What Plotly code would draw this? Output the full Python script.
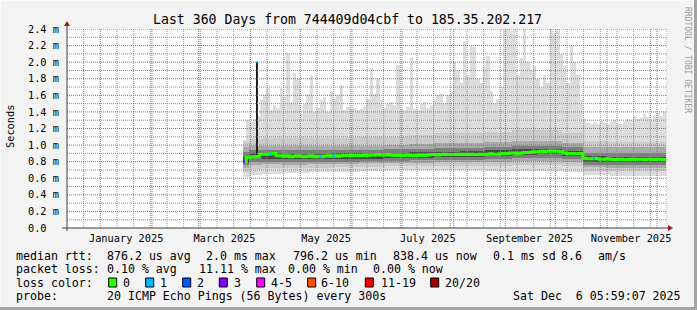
import numpy as np
import pandas as pd
import plotly.graph_objects as go

# ---------------- data ----------------
X_RANGE = ["2024-12-12 00:00", "2025-12-07 00:00"]
Y_RANGE = [0.0, 2.4]

month_starts = ["2025-01-01", "2025-02-01", "2025-03-01", "2025-04-01", "2025-05-01", "2025-06-01",
                "2025-07-01", "2025-08-01", "2025-09-01", "2025-10-01", "2025-11-01", "2025-12-01"]
month_labels = ["January 2025", "March 2025", "May 2025", "July 2025", "September 2025", "November 2025"]
month_label_pos = ["2025-01-16 12:00", "2025-03-16 12:00", "2025-05-16 12:00",
                   "2025-07-16 12:00", "2025-09-15 12:00", "2025-11-15 12:00"]
y_tick_vals = [0.0, 0.2, 0.4, 0.6, 0.8, 1.0, 1.2, 1.4, 1.6, 1.8, 2.0, 2.2, 2.4]
y_tick_text = ["0.0\u00a0\u00a0", "0.2 m", "0.4 m", "0.6 m", "0.8 m", "1.0 m", "1.2 m",
               "1.4 m", "1.6 m", "1.8 m", "2.0 m", "2.2 m", "2.4 m"]

# fine series: 2-day bins starting here (ms)
fine_start = "2025-03-27 12:00"
max_rtt = [1.06, 1.30, 1.28, 1.32, 1.35, 1.54, 1.60, 1.69, 1.42, 1.48,
           1.45, 1.69, 1.58, 2.11, 1.52, 1.87, 1.80, 1.38, 1.50, 1.62,
           1.85, 1.40, 1.45, 1.54, 1.58, 1.40, 1.65, 1.55, 1.60, 1.72,
           1.42, 1.46, 1.43, 1.45, 1.42, 1.44, 1.46, 1.55, 1.93, 1.62,
           1.80, 1.55, 1.45, 1.50, 1.52, 1.48, 1.97, 1.44, 1.42, 1.46,
           2.05, 1.43, 1.42, 1.50, 1.52, 1.45, 1.48, 1.55, 1.60, 1.62,
           1.50, 1.60, 1.65, 2.00, 1.90, 1.75, 2.25, 1.85, 2.20, 2.18,
           1.80, 1.75, 1.95, 2.07, 1.65, 1.50, 1.55, 1.70, 2.45, 2.45,
           2.38, 2.45, 1.85, 2.05, 2.45, 2.00, 1.90, 1.95, 1.80, 1.70,
           1.85, 1.75, 2.45, 2.35, 2.45, 2.10, 1.95, 1.75, 2.20, 2.00,
           1.85, 1.55, 1.32, 1.27, 1.25, 1.28, 1.26, 1.29, 1.27, 1.25,
           1.28, 1.30, 1.27, 1.26, 1.29, 1.32, 1.30, 1.35, 1.31, 1.33,
           1.38, 1.34, 1.32, 1.36, 1.39, 1.35, 1.40]
median_rtt = [0.80, 0.85, 0.86, 0.86, 0.865, 0.89, 0.89, 0.89, 0.895, 0.90,
              0.87, 0.87, 0.865, 0.87, 0.86, 0.865, 0.87, 0.865, 0.86, 0.865,
              0.87, 0.86, 0.865, 0.86, 0.865, 0.87, 0.865, 0.87, 0.865, 0.87,
              0.875, 0.875, 0.87, 0.875, 0.87, 0.875, 0.88, 0.875, 0.88, 0.88,
              0.885, 0.88, 0.88, 0.885, 0.88, 0.875, 0.88, 0.875, 0.875, 0.88,
              0.875, 0.87, 0.875, 0.88, 0.875, 0.88, 0.885, 0.885, 0.88, 0.885,
              0.89, 0.885, 0.885, 0.885, 0.89, 0.885, 0.89, 0.885, 0.89, 0.885,
              0.885, 0.89, 0.885, 0.89, 0.895, 0.89, 0.89, 0.895, 0.90, 0.90,
              0.905, 0.905, 0.90, 0.905, 0.91, 0.91, 0.915, 0.92, 0.92, 0.925,
              0.92, 0.925, 0.93, 0.925, 0.925, 0.92, 0.905, 0.90, 0.90, 0.90,
              0.90, 0.90, 0.84, 0.835, 0.835, 0.84, 0.835, 0.83, 0.83, 0.835,
              0.83, 0.825, 0.825, 0.83, 0.825, 0.825, 0.83, 0.825, 0.83, 0.83,
              0.825, 0.83, 0.83, 0.825, 0.83, 0.83, 0.825]
loss_count = [3, 0, 0, 0, 0, 0, 0, 0, 1, 0,
              0, 0, 0, 0, 0, 0, 0, 0, 0, 0,
              0, 0, 0, 1, 0, 0, 0, 1, 0, 0,
              0, 0, 0, 0, 0, 0, 0, 0, 0, 0,
              0, 0, 0, 0, 0, 0, 0, 0, 0, 0,
              0, 0, 0, 0, 0, 0, 0, 0, 0, 0,
              0, 0, 0, 0, 0, 0, 0, 0, 0, 0,
              0, 0, 0, 0, 0, 0, 0, 0, 0, 0,
              0, 0, 0, 0, 0, 0, 0, 0, 0, 0,
              0, 0, 0, 0, 0, 0, 0, 0, 0, 0,
              0, 0, 0, 0, 0, 1, 0, 0, 0, 0,
              0, 0, 0, 0, 0, 0, 0, 0, 0, 0,
              0, 0, 0, 0, 0, 0, 0]

# single high sample
spike_date = "2025-04-05 06:00"
spike_base = 0.88
spike_top = 2.0
spike_loss = 1

# smoke bands (coarse periods), values in ms
band_edges = ["2025-03-27 12:00", "2025-03-31 00:00", "2025-04-08 00:00", "2025-04-20 00:00",
              "2025-05-05 00:00", "2025-05-20 00:00", "2025-06-05 00:00", "2025-06-20 00:00",
              "2025-07-05 00:00", "2025-07-20 00:00", "2025-08-05 00:00", "2025-08-20 00:00",
              "2025-09-05 00:00", "2025-09-20 00:00", "2025-10-05 00:00", "2025-10-17 12:00",
              "2025-11-01 00:00", "2025-11-15 00:00", "2025-12-06 12:00"]
band_min = [0.62, 0.64, 0.65, 0.66, 0.67, 0.68, 0.69, 0.70, 0.70, 0.70, 0.70, 0.69, 0.69, 0.69, 0.68, 0.64, 0.63, 0.63]
band_lo2 = [0.68, 0.71, 0.72, 0.72, 0.725, 0.73, 0.735, 0.745, 0.745, 0.75, 0.75, 0.75, 0.755, 0.76, 0.745, 0.69, 0.685, 0.685]
band_lo3 = [0.72, 0.76, 0.77, 0.765, 0.77, 0.775, 0.78, 0.785, 0.79, 0.795, 0.80, 0.80, 0.805, 0.81, 0.795, 0.73, 0.725, 0.725]
band_lo4 = [0.76, 0.80, 0.80, 0.80, 0.80, 0.80, 0.805, 0.81, 0.815, 0.82, 0.825, 0.83, 0.845, 0.85, 0.83, 0.765, 0.76, 0.76]
band_lo5 = [0.79, 0.84, 0.835, 0.83, 0.83, 0.835, 0.835, 0.845, 0.85, 0.855, 0.86, 0.87, 0.885, 0.89, 0.865, 0.80, 0.795, 0.795]
band_hi5 = [0.86, 0.90, 0.90, 0.895, 0.895, 0.90, 0.90, 0.91, 0.915, 0.92, 0.925, 0.935, 0.95, 0.955, 0.93, 0.865, 0.86, 0.86]
band_hi4 = [0.92, 0.94, 0.94, 0.935, 0.935, 0.94, 0.94, 0.95, 0.955, 0.96, 0.965, 0.975, 0.99, 0.995, 0.975, 0.91, 0.905, 0.905]
band_hi3 = [0.98, 0.99, 0.99, 0.985, 0.985, 0.99, 0.99, 1.00, 1.01, 1.02, 1.025, 1.035, 1.05, 1.05, 1.03, 0.98, 0.975, 0.975]
band_hi2 = [1.04, 1.07, 1.08, 1.08, 1.08, 1.09, 1.10, 1.10, 1.12, 1.14, 1.15, 1.16, 1.18, 1.18, 1.15, 1.05, 1.04, 1.04]

loss_colors = {0: "#26ff00", 1: "#00b8ff", 2: "#0059ff", 3: "#7e00ff", 4: "#ff00ff",
               6: "#ff5500", 11: "#ff0000", 20: "#a00000"}
legend_loss_labels = ["0", "1", "2", "3", "4-5", "6-10", "11-19", "20/20"]
legend_loss_colors = ["#26ff00", "#00b8ff", "#0059ff", "#7e00ff", "#ff00ff", "#ff5500", "#ff0000", "#a00000"]

# ---------------- geometry helpers ----------------
W, H = 697, 310
L, R, T, B = 67, 30, 29, 82
PW, PH = W - L - R, H - T - B


def px(x):
    return (x - L) / PW


def py(y):
    return (H - B - y) / PH


DAY_MS = 86400000
FONT = "DejaVu Sans Mono"

fig = go.Figure()

# ---------------- smoke ----------------
fine_x = pd.date_range(fine_start, periods=len(max_rtt), freq="2D")
edges = pd.to_datetime(band_edges, format="ISO8601")
band_x = edges[:-1]
band_w = np.diff(edges.values).astype("timedelta64[ms]").astype(float)
idx = np.clip(np.searchsorted(edges.values, fine_x.values, side="right") - 1, 0, len(band_min) - 1)
min_fine = np.array(band_min)[idx]
mx = np.array(max_rtt)

fig.add_trace(go.Bar(x=fine_x, y=mx - min_fine, base=min_fine, width=2 * DAY_MS, offset=0,
                     marker=dict(color="#dcdcdc", line=dict(width=0)), hoverinfo="skip"))
layers = [(band_lo2, band_hi2, "#cacaca"), (band_lo3, band_hi3, "#aaaaaa"),
          (band_lo4, band_hi4, "#7e7e7e"), (band_lo5, band_hi5, "#4a4a4a")]
for lo, hi, col in layers:
    lo = np.array(lo)
    hi = np.array(hi)
    fig.add_trace(go.Bar(x=band_x, y=hi - lo, base=lo, width=band_w, offset=0,
                         marker=dict(color=col, line=dict(width=0)), hoverinfo="skip"))

fig.add_trace(go.Bar(x=[spike_date], y=[spike_top - spike_base], base=[spike_base],
                     width=1.2 * DAY_MS, offset=-0.6 * DAY_MS,
                     marker=dict(color="#1e1e1e", line=dict(width=0)), hoverinfo="skip"))

# ---------------- grid (drawn over smoke like rrdtool) ----------------
x0d, x1d = pd.Timestamp(X_RANGE[0]), pd.Timestamp(X_RANGE[1])
minor_dates = [d for d in pd.date_range(x0d + pd.Timedelta(days=10), x1d, freq="10D")
               if d.strftime("%Y-%m-%d") not in month_starts]
gx, gy = [], []
for d in minor_dates:
    gx += [d, d, None]
    gy += [Y_RANGE[0], Y_RANGE[1], None]
for v in np.arange(1, 24, 2) / 10.0:
    gx += [x0d, x1d, None]
    gy += [v, v, None]
fig.add_trace(go.Scatter(x=gx, y=gy, mode="lines", line=dict(color="#8e8e8e", width=1, dash="1px,1px"),
                         hoverinfo="skip"))
mxg, myg = [], []
for d in month_starts:
    dd = pd.Timestamp(d)
    mxg += [dd, dd, None]
    myg += [Y_RANGE[0], Y_RANGE[1], None]
for v in y_tick_vals[1:]:
    mxg += [x0d, x1d, None]
    myg += [v, v, None]
fig.add_trace(go.Scatter(x=mxg, y=myg, mode="lines", line=dict(color="#f04848", width=1, dash="1px,1px"),
                         hoverinfo="skip"))

# ---------------- median line ----------------
med_x = list(fine_x) + [fine_x[-1] + pd.Timedelta(days=2)]
med_y = list(median_rtt) + [median_rtt[-1]]
fig.add_trace(go.Scatter(x=med_x, y=med_y, mode="lines", line=dict(color=loss_colors[0], width=3, shape="hv"),
                         hoverinfo="skip"))


def loss_col(n):
    key = max(k for k in loss_colors if k <= n)
    return loss_colors[key]


for k, n in enumerate(loss_count):
    if n > 0:
        fig.add_trace(go.Scatter(x=[fine_x[k], fine_x[k] + pd.Timedelta(hours=30)],
                                 y=[median_rtt[k], median_rtt[k]], mode="lines",
                                 line=dict(color=loss_col(n), width=3), hoverinfo="skip"))
fig.add_trace(go.Scatter(x=[pd.Timestamp(spike_date) - pd.Timedelta(hours=14), pd.Timestamp(spike_date) + pd.Timedelta(hours=14)],
                         y=[spike_top, spike_top], mode="lines",
                         line=dict(color=loss_col(spike_loss), width=2), hoverinfo="skip"))

# ---------------- axes / shapes ----------------
shapes = []
AX = "#3c3c3c"
ARW = "#9b1c1c"
shapes.append(dict(type="line", xref="paper", yref="paper", x0=px(62), x1=px(669), y0=py(228), y1=py(228),
                   line=dict(color=AX, width=1)))
shapes.append(dict(type="line", xref="paper", yref="paper", x0=px(67), x1=px(67), y0=py(231), y1=py(25),
                   line=dict(color=AX, width=1)))
shapes.append(dict(type="path", xref="paper", yref="paper",
                   path=f"M {px(64)} {py(26)} L {px(70)} {py(26)} L {px(67)} {py(21)} Z",
                   fillcolor=ARW, line=dict(width=0)))
shapes.append(dict(type="path", xref="paper", yref="paper",
                   path=f"M {px(668)} {py(225)} L {px(668)} {py(231)} L {px(673)} {py(228)} Z",
                   fillcolor=ARW, line=dict(width=0)))
# frame shading
shapes.append(dict(type="rect", xref="paper", yref="paper", x0=px(694), x1=px(697), y0=py(0), y1=py(310),
                   fillcolor="#a3a3a3", line=dict(width=0)))
shapes.append(dict(type="rect", xref="paper", yref="paper", x0=px(0), x1=px(697), y0=py(307), y1=py(310),
                   fillcolor="#a3a3a3", line=dict(width=0)))
shapes.append(dict(type="rect", xref="paper", yref="paper", x0=px(0), x1=px(694), y0=py(0), y1=py(1),
                   fillcolor="#fbfbfb", line=dict(width=0)))
shapes.append(dict(type="rect", xref="paper", yref="paper", x0=px(0), x1=px(1), y0=py(0), y1=py(307),
                   fillcolor="#fbfbfb", line=dict(width=0)))

annotations = []


def txt(text, x, y, size=11.6, anchor="left", color="#000000", angle=0):
    annotations.append(dict(text=text, x=px(x), y=py(y), xref="paper", yref="paper", showarrow=False,
                            xanchor=anchor, yanchor="middle", textangle=angle,
                            font=dict(family=FONT, size=size, color=color)))


txt("Last 360 Days from 744409d04cbf to 185.35.202.217", 347.5, 19.5, size=13.2, anchor="center")
txt("Seconds", 10, 127, size=10.3, anchor="center", angle=-90)
txt("RRDTOOL / TOBI OETIKER", 688, 60, size=8, anchor="center", color="#9a9a9a", angle=90)

r1, r2, r3, r4 = 255.5, 268.8, 282.8, 296.2
sp = "\u00a0"
txt("median rtt:", 14, r1)
txt("876.2 us avg", 105, r1)
txt("2.0 ms max", 203.5, r1)
txt("796.2 us min", 291, r1)
txt("838.4 us now", 391, r1)
txt("0.1 ms sd", 491, r1)
txt("8.6", 558.5, r1)
txt("am/s", 596, r1)
txt("packet loss:", 14, r2)
txt("0.10 % avg", 105, r2)
txt("11.11 % max", 196.5, r2)
txt("0.00 % min", 285.5, r2)
txt("0.00 % now", 370.5, r2)
txt("loss color:", 14, r3)
box_x = [108.7, 145.7, 182.7, 219.3, 256.7, 307.7, 365.3, 430.7]
lab_x = [123.3, 160, 196.7, 234.3, 270.7, 320.7, 380.7, 445]
for bx, lx, lab, col in zip(box_x, lab_x, legend_loss_labels, legend_loss_colors):
    shapes.append(dict(type="rect", xref="paper", yref="paper", x0=px(bx), x1=px(bx + 8), y0=py(278), y1=py(287),
                       fillcolor=col, line=dict(color="#000000", width=1)))
    txt(lab, lx - 2, r3)
txt("probe:", 14, r4)
txt("20 ICMP Echo Pings (56 Bytes) every 300s", 105, r4)
txt("Sat Dec" + sp + sp + "6 05:59:07 2025", 511, r4)

fig.update_layout(
    width=W, height=H, margin=dict(l=L, r=R, t=T, b=B, pad=0),
    paper_bgcolor="#f3f3f3", plot_bgcolor="#ffffff",
    barmode="overlay", bargap=0, showlegend=False,
    shapes=shapes, annotations=annotations,
    xaxis=dict(type="date", range=X_RANGE, tickmode="array", tickvals=month_label_pos, ticktext=month_labels,
               showgrid=False, zeroline=False, showline=False, ticks="outside", ticklen=1,
               tickcolor="rgba(0,0,0,0)", tickfont=dict(family=FONT, size=10.3, color="#000000")),
    yaxis=dict(range=Y_RANGE, tickmode="array", tickvals=y_tick_vals, ticktext=y_tick_text,
               showgrid=False, zeroline=False, showline=False, ticks="outside", ticklen=5,
               tickcolor="rgba(0,0,0,0)", tickfont=dict(family=FONT, size=10.3, color="#000000")),
)

fig.write_html("out.html")
